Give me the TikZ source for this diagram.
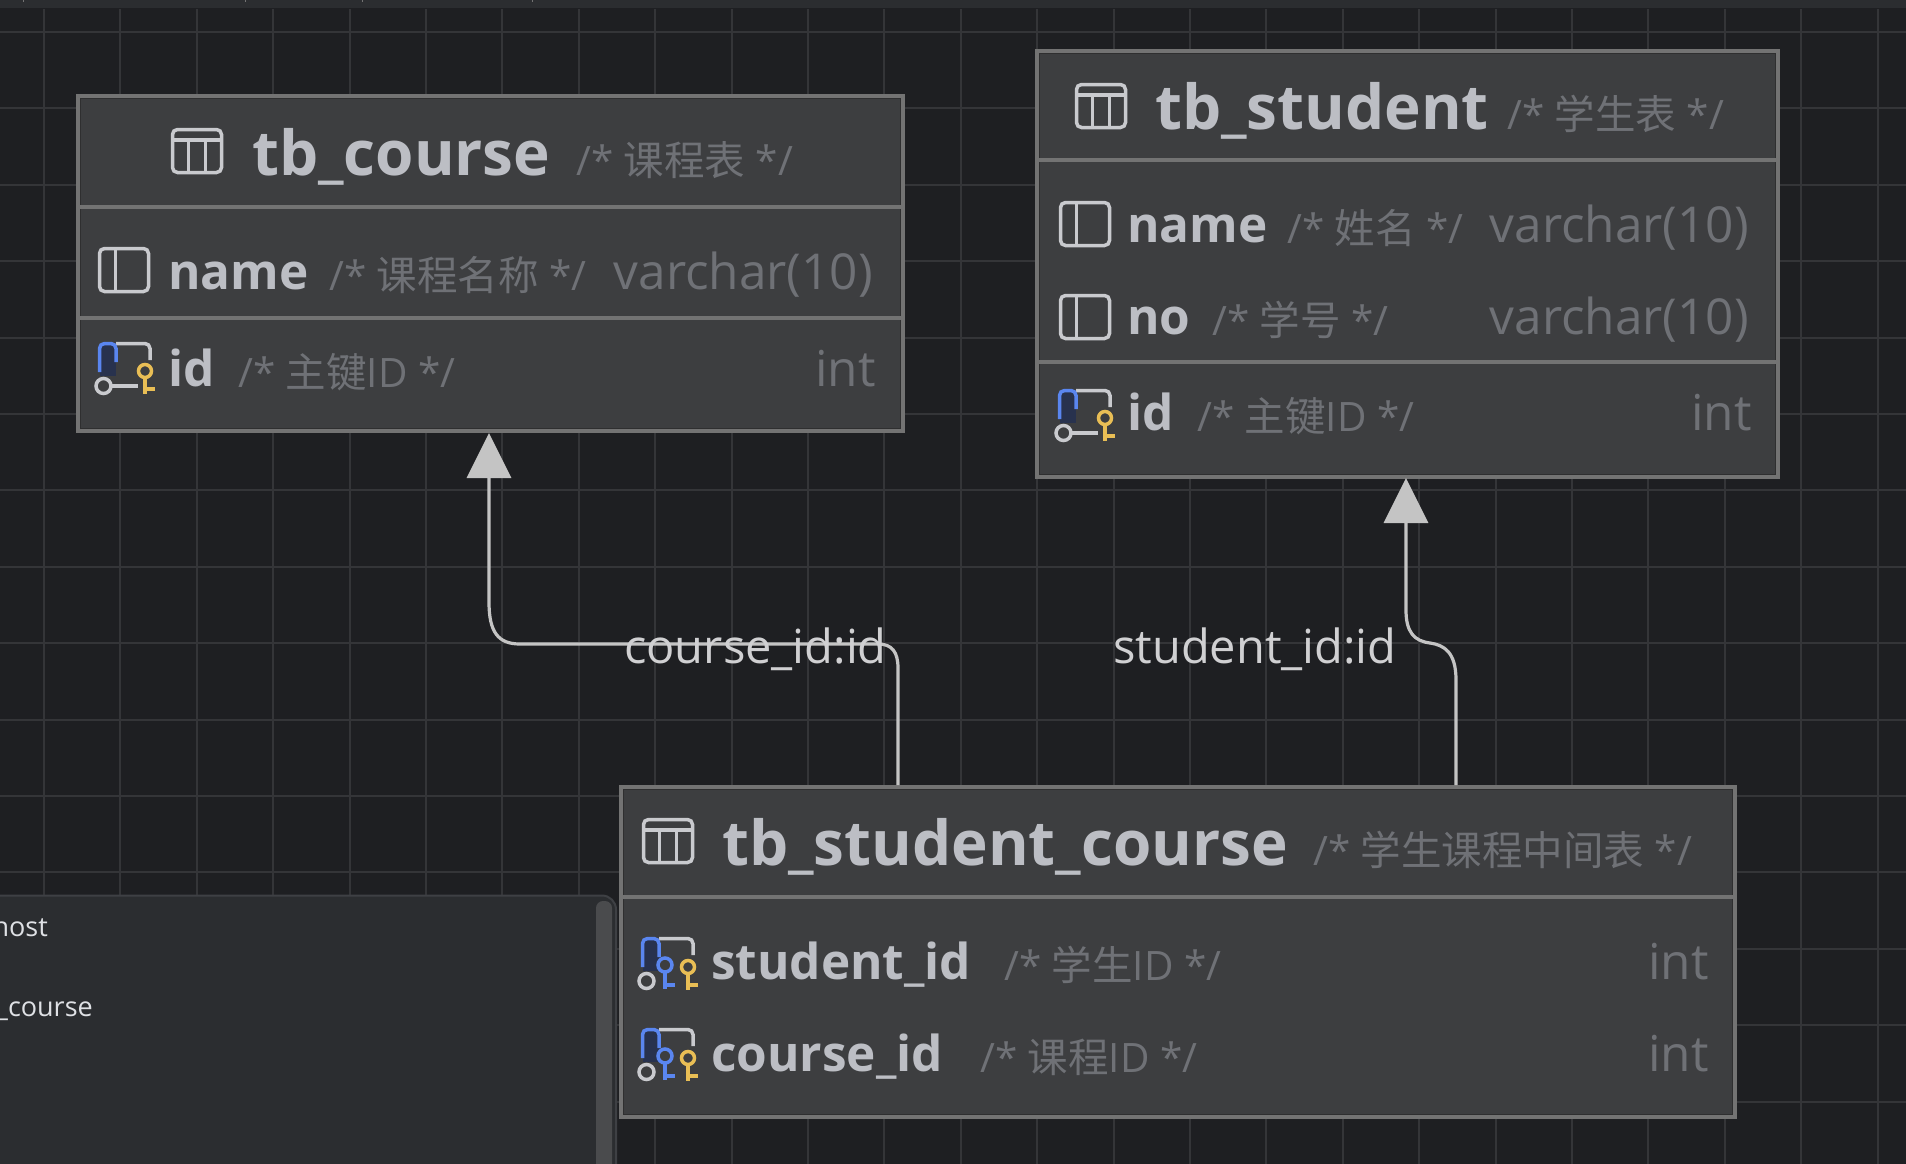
\documentclass[tikz,border=0pt]{standalone}
\usepackage{fontspec}
\setmainfont{Open Sans}
\newfontfamily\cjk{Noto Sans CJK SC}
\usetikzlibrary{arrows.meta,positioning,calc}

\definecolor{canvas}{HTML}{1E1F22}
\definecolor{gridcol}{HTML}{343538}
\definecolor{barcol}{HTML}{2B2D30}
\definecolor{panelline}{HTML}{3E4044}
\definecolor{panelbar}{HTML}{4A4B4D}
\definecolor{tablecol}{HTML}{3D3E40}
\definecolor{edgecol}{HTML}{737373}
\definecolor{insetcol}{HTML}{2F2F30}
\definecolor{titlecol}{HTML}{BCBEC4}
\definecolor{notecol}{HTML}{6F7176}
\definecolor{linkcol}{HTML}{C4C4C4}
\definecolor{linklabel}{HTML}{D0D0D2}
\definecolor{menucol}{HTML}{DFE1E5}
\definecolor{iconblue}{HTML}{5A86F0}
\definecolor{icondark}{HTML}{28324E}
\definecolor{iconyellow}{HTML}{E9BE55}
\definecolor{iconline}{HTML}{C9CACE}

\tikzset{
  tablebox/.style={draw=edgecol, line width=4pt, fill=tablecol, anchor=north west, inner sep=0pt, outer sep=0pt},
  insetline/.style={insetcol, line width=0.9pt},
  divider/.style={edgecol, line width=4pt},
  gridline/.style={gridcol, line width=2pt},
  titletext/.style={anchor=base west, inner sep=0pt, text=titlecol, xshift=-1pt, yshift=-2pt, font=\fontsize{62}{62}\selectfont\bfseries},
  coltext/.style={anchor=base west, inner sep=0pt, text=titlecol, xshift=-2pt, yshift=-1pt, font=\fontsize{49.5}{49.5}\selectfont\bfseries},
  notetext/.style={anchor=base west, inner sep=0pt, text=notecol, yshift=-2pt, font=\fontsize{40.5}{40.5}\selectfont},
  typetext/.style={anchor=base east, inner sep=0pt, text=notecol, yshift=-1pt, font=\fontsize{49.5}{49.5}\selectfont},
  linktext/.style={anchor=base west, inner sep=0pt, text=linklabel, yshift=-2pt, font=\fontsize{47}{47}\selectfont},
  menutext/.style={anchor=base east, inner sep=0pt, text=menucol, font=\fontsize{27}{27}\selectfont},
  fklink/.style={linkcol, line width=3.2pt, -{Triangle[width=44pt,length=45pt]}},
  iconpen/.style={iconline, line width=3.5pt},
  tableicon/.pic={
    \draw[iconpen, rounded corners=5pt] (1.5,1.5) rectangle (50.5,44.5);
    \draw[iconpen] (1.5,12) -- (50.5,12);
    \draw[iconpen] (17.5,12) -- (17.5,44.5) (34.5,12) -- (34.5,44.5);
  },
  colicon/.pic={
    \draw[iconpen, rounded corners=5pt] (1.5,1.5) rectangle (50.5,44.5);
    \draw[iconpen] (17.5,1.5) -- (17.5,44.5);
  },
  keyframe/.pic={
    \fill[icondark] (6,2) rectangle (22,34);
    \draw[iconpen, rounded corners=5pt] (22,1.5) -- (56,1.5) -- (56,18);
    \draw[iconblue, line width=3.5pt, rounded corners=5pt] (5.5,30) -- (5.5,1.5) -- (22,1.5) -- (22,20);
    \draw[iconpen, fill=tablecol] (9.5,44) circle[radius=7.5];
  },
  onekey/.pic={
    \draw[iconyellow, line width=3.5pt] (0,6) -- (0,23) (0,18) -- (10,18);
    \draw[iconyellow, line width=3.5pt, fill=tablecol] (0,0) circle[radius=6.5];
  },
  pkicon/.pic={
    \pic at (0,0) {keyframe};
    \draw[iconpen] (18,44) -- (44,44);
    \pic at (51,29) {onekey};
  },
  fkicon/.pic={
    \pic at (0,0) {keyframe};
    \draw[iconblue, line width=3.5pt] (28,34) -- (28,52) (28,48) -- (38,48);
    \draw[iconblue, line width=3.5pt, fill=tablecol] (28,28) circle[radius=7];
    \pic at (51,30) {onekey};
  }
}

\begin{document}
\begin{tikzpicture}[x=1pt,y=-1pt]
\clip (0,0) rectangle (1906,1164);
\fill[canvas] (0,0) rectangle (1906,1164);

% grid
\foreach \k in {0,...,24} {
  \draw[gridline] ({44+76.4*\k},9) -- ({44+76.4*\k},1164);
}
\foreach \k in {0,...,14} {
  \draw[gridline] (0,{32+76.4*\k}) -- (1906,{32+76.4*\k});
}
\fill[barcol] (0,0) rectangle (1906,8);
\foreach \k in {23,245,362,532} {
  \draw[edgecol, line width=1pt] (\k,0) -- (\k,2);
}

% popup on the lower left
\draw[fill=barcol, draw=panelline, line width=2pt, rounded corners=14pt]
  (-20,895.5) -- (616,895.5) -- (616,1190) -- (-20,1190) -- cycle;
\fill[panelbar, rounded corners=7pt] (596,901) rectangle (612,1190);
\node[menutext] (hostlabel) at (48,936) {host};
\node[menutext] (courselabel) at (93,1016) {\_course};

% tables
\node[tablebox, minimum width=825pt, minimum height=334.5pt] (course) at (78,96) {};
\node[tablebox, minimum width=741pt, minimum height=426pt] (student) at (1037,51) {};
\node[tablebox, minimum width=1114pt, minimum height=330pt] (link) at (621,787) {};
\foreach \t in {course,student,link} {
  \draw[insetline] ($(\t.north west)+(2.5,2.5)$) rectangle ($(\t.south east)+(-2.5,-2.5)$);
}

\coordinate (linkleft) at (898,785);
\coordinate (linkright) at (1456,785);

\draw[fklink] (linkleft) -- (898,668) .. controls (898,652) and (892,644) .. (878,644)
  -- (520,644) .. controls (498,644) and (489,632) .. (489,602) -- (489,433);
\draw[fklink] (linkright) -- (1456,680) .. controls (1456,652) and (1444,645) .. (1430,643)
  .. controls (1414,641) and (1406,632) .. (1406,610) -- (1406,478);

\node[linktext] (leftlabel) at (624,661) {course\_id:id};
\node[linktext] (rightlabel) at (1113,661) {student\_id:id};

% tb_course
\draw[divider] (course.west |- 0,207) -- (course.east |- 0,207);
\draw[divider] (course.west |- 0,318) -- (course.east |- 0,318);
\pic at (171,128) {tableicon};
\node[titletext] (coursetitle) at (253,173) {tb\_course};
\node[notetext] (coursenote) at (576,173) {/* {\cjk 课程表} */};
\pic at (98,247) {colicon};
\node[coltext] (coursename) at (170,288) {name};
\node[notetext] (coursenamenote) at (329,288) {/* {\cjk 课程名称} */};
\node[typetext] (coursenametype) at (873,288) {varchar(10)};
\pic at (94,342) {pkicon};
\node[coltext] (courseid) at (170,385) {id};
\node[notetext] (courseidnote) at (238,385) {/* {\cjk 主键}ID */};
\node[typetext] (courseidtype) at (876,385) {int};

% tb_student
\draw[divider] (student.west |- 0,160) -- (student.east |- 0,160);
\draw[divider] (student.west |- 0,362) -- (student.east |- 0,362);
\pic at (1075,83) {tableicon};
\node[titletext] (studenttitle) at (1156,127) {tb\_student};
\node[notetext] (studentnote) at (1507,127) {/* {\cjk 学生表} */};
\pic at (1059,201) {colicon};
\node[coltext] (studentname) at (1129,241) {name};
\node[notetext] (studentnamenote) at (1287,241) {/* {\cjk 姓名} */};
\node[typetext] (studentnametype) at (1749,241) {varchar(10)};
\pic at (1059,294) {colicon};
\node[coltext] (studentno) at (1129,333) {no};
\node[notetext] (studentnonote) at (1212,333) {/* {\cjk 学号} */};
\node[typetext] (studentnotype) at (1749,333) {varchar(10)};
\pic at (1054,389) {pkicon};
\node[coltext] (studentid) at (1129,429) {id};
\node[notetext] (studentidnote) at (1197,429) {/* {\cjk 主键}ID */};
\node[typetext] (studentidtype) at (1752,429) {int};

% tb_student_course
\draw[divider] (link.west |- 0,897) -- (link.east |- 0,897);
\pic at (642,818) {tableicon};
\node[titletext] (linktitle) at (723,863) {tb\_student\_course};
\node[notetext] (linknote) at (1313,863) {/* {\cjk 学生课程中间表} */};
\pic at (637,937) {fkicon};
\node[coltext] (linkstudent) at (713,978) {student\_id};
\node[notetext] (linkstudentnote) at (1004,978) {/* {\cjk 学生}ID */};
\node[typetext] (linkstudenttype) at (1709,978) {int};
\pic at (637,1028) {fkicon};
\node[coltext] (linkcourse) at (713,1070) {course\_id};
\node[notetext] (linkcoursenote) at (980,1070) {/* {\cjk 课程}ID */};
\node[typetext] (linkcoursetype) at (1709,1070) {int};
\end{tikzpicture}
\end{document}
